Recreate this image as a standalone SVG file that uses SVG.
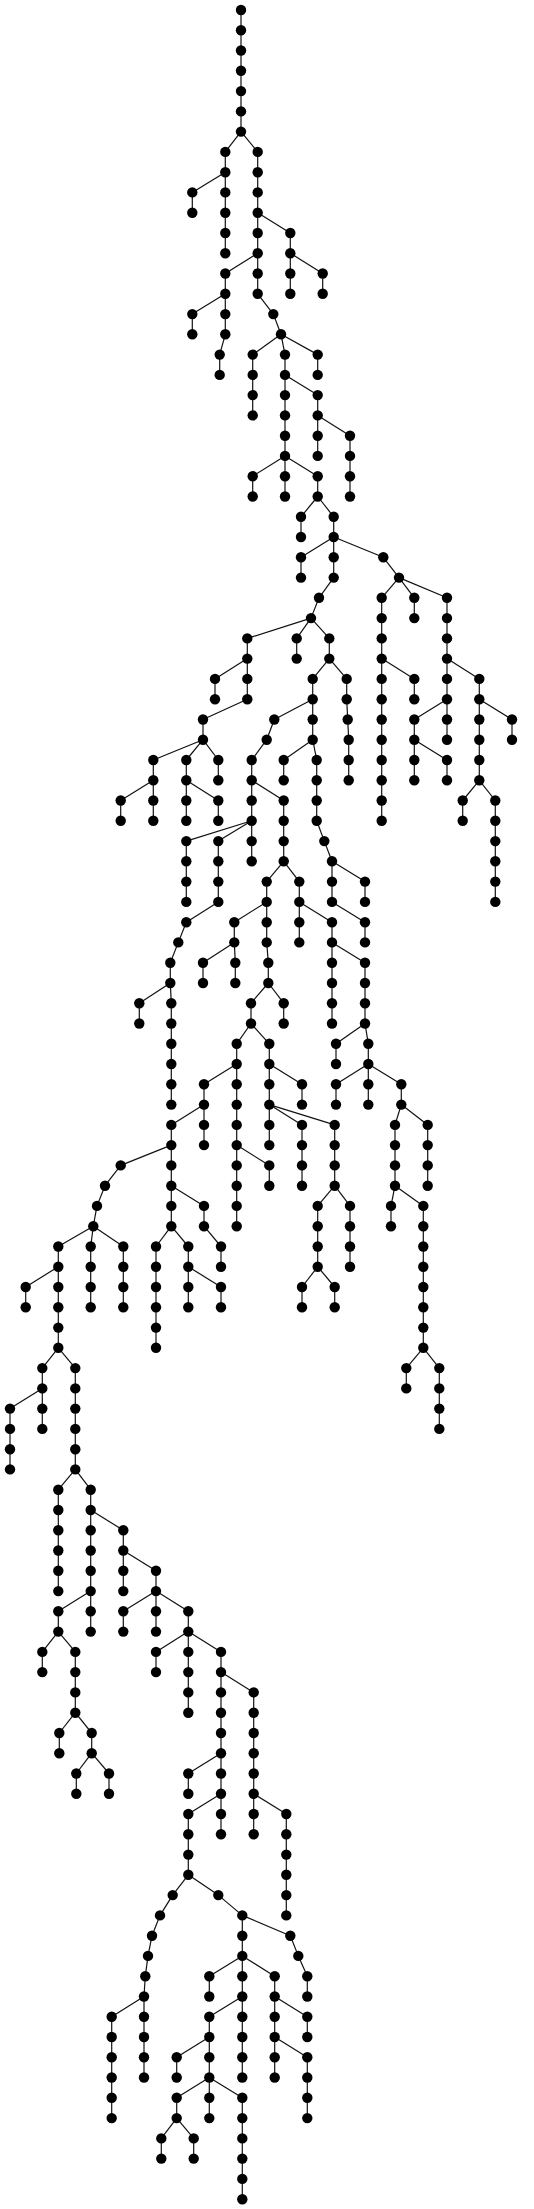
<svg xmlns="http://www.w3.org/2000/svg" xmlns:xlink="http://www.w3.org/1999/xlink" width="534" height="2209" viewBox="0 0 534 2209">
<style>
#edges path{fill:none;stroke:#111;stroke-width:1.2}
.dot{fill:#000}
</style>
<defs><circle id="d" class="dot" r="5.2"/></defs>
<rect width="534" height="2209" fill="#fff"/>
<g id="edges">
<path d="M241 10V30.3"/><path d="M241 30.3V50.5"/><path d="M241 50.5V70.8"/><path d="M241 70.8V91.1"/><path d="M241 91.1V111.4"/><path d="M241 111.4V131.6"/>
<path d="M241 131.6L225.3 151.9"/><path d="M241 131.6L257.7 151.9"/><path d="M225.3 151.9V172.2"/><path d="M225.3 172.2L192.3 192.4"/><path d="M192.3 192.4V212.7"/>
<path d="M225.3 172.2V192.4"/><path d="M225.3 192.4V212.7"/><path d="M225.3 212.7V233"/><path d="M225.3 233V253.2"/>
<path d="M257.7 151.9V172.2"/><path d="M257.7 172.2V192.4"/><path d="M257.7 192.4V212.7"/><path d="M257.7 212.7L290.3 233"/><path d="M290.3 233V253.2"/><path d="M290.3 253.2V273.5"/><path d="M290.3 273.5V293.8"/><path d="M290.3 253.2L322.7 273.5"/><path d="M322.7 273.5V293.8"/>
<path d="M257.7 212.7V233"/><path d="M257.7 233V253.2"/><path d="M257.7 253.2L225.3 273.5"/><path d="M225.3 273.5V293.8"/><path d="M225.3 293.8L192.3 314.1"/><path d="M192.3 314.1V334.3"/><path d="M225.3 293.8V314.1"/><path d="M225.3 314.1V334.3"/><path d="M225.3 334.3L219.7 354.6"/><path d="M219.7 354.6V374.9"/>
<path d="M257.7 253.2V273.5"/><path d="M257.7 273.5V293.8"/><path d="M257.7 293.8L273.3 314.1"/><path d="M273.3 314.1L281 334.3"/><path d="M281 334.3L252.7 354.6"/><path d="M252.7 354.6V374.9"/><path d="M252.7 374.9V395.1"/><path d="M252.7 395.1V415.4"/>
<path d="M281 334.3L285 354.6"/><path d="M285 354.6V374.9"/><path d="M285 374.9V395.1"/><path d="M285 395.1V415.4"/><path d="M285 415.4V435.7"/><path d="M285 435.7V455.9"/><path d="M285 455.9L252.7 476.2"/><path d="M252.7 476.2V496.5"/><path d="M285 455.9V476.2"/><path d="M285 476.2V496.5"/><path d="M285 455.9L317.7 476.2"/><path d="M317.7 476.2V496.5"/>
<path d="M317.7 496.5L301 516.8"/><path d="M301 516.8V537"/><path d="M317.7 496.5L333.7 516.8"/><path d="M333.7 516.8V537"/><path d="M333.7 537L301 557.3"/><path d="M301 557.3V577.6"/><path d="M333.7 537V557.3"/><path d="M333.7 557.3V577.6"/><path d="M333.7 577.6L319 597.8"/><path d="M319 597.8L311 618.1"/>
<path d="M311 618.1L247.3 638.4"/><path d="M247.3 638.4V658.6"/><path d="M247.3 658.6L215 678.9"/><path d="M215 678.9V699.2"/><path d="M247.3 658.6V678.9"/><path d="M247.3 678.9V699.2"/><path d="M247.3 699.2L203 719.5"/><path d="M203 719.5V739.7"/>
<path d="M203 739.7L153.3 760"/><path d="M153.3 760V780.3"/><path d="M153.3 780.3L120.7 800.5"/><path d="M120.7 800.5V820.8"/><path d="M153.3 780.3V800.5"/><path d="M153.3 800.5V820.8"/><path d="M203 739.7L186.3 760"/><path d="M186.3 760V780.3"/><path d="M186.3 780.3V800.5"/><path d="M186.3 800.5V820.8"/><path d="M186.3 780.3L218.3 800.5"/><path d="M218.3 800.5V820.8"/><path d="M203 739.7L218.3 760"/><path d="M218.3 760V780.3"/>
<path d="M311 618.1L296.7 638.4"/><path d="M296.7 638.4V658.6"/><path d="M311 618.1L329.3 638.4"/><path d="M329.3 638.4V658.6"/><path d="M329.3 658.6L312.7 678.9"/><path d="M312.7 678.9V699.2"/><path d="M312.7 699.2L274.3 719.5"/><path d="M274.3 719.5L266.7 739.7"/><path d="M266.7 739.7L251.7 760"/><path d="M251.7 760V780.3"/><path d="M251.7 780.3V800.5"/><path d="M251.7 800.5V820.8"/>
<path d="M251.7 820.8L186.3 841.1"/><path d="M186.3 841.1V861.3"/><path d="M186.3 861.3V881.6"/><path d="M186.3 881.6V901.9"/><path d="M251.7 820.8L218.3 841.1"/><path d="M218.3 841.1V861.3"/><path d="M218.3 861.3V881.6"/><path d="M218.3 881.6V901.9"/><path d="M218.3 901.9L186.3 922.2"/><path d="M186.3 922.2L178.3 942.4"/><path d="M178.3 942.4L170.3 962.7"/><path d="M170.3 962.7V983"/>
<path d="M170.3 983L139.3 1003.2"/><path d="M139.3 1003.2V1023.5"/><path d="M170.3 983L171.3 1003.2"/><path d="M171.3 1003.2V1023.5"/><path d="M171.3 1023.5V1043.8"/><path d="M171.3 1043.8V1064"/><path d="M171.3 1064V1084.3"/><path d="M171.3 1084.3V1104.6"/>
<path d="M251.7 820.8V841.1"/><path d="M251.7 841.1V861.3"/><path d="M251.7 780.3L283.7 800.5"/><path d="M283.7 800.5V820.8"/><path d="M283.7 820.8V841.1"/><path d="M283.7 841.1V861.3"/><path d="M283.7 861.3L266.7 881.6"/><path d="M266.7 881.6V901.9"/><path d="M266.7 901.9L234.3 922.2"/><path d="M234.3 922.2V942.4"/><path d="M234.3 942.4L203 962.7"/><path d="M203 962.7V983"/><path d="M234.3 942.4L235.3 962.7"/><path d="M235.3 962.7V983"/>
<path d="M266.7 901.9V922.2"/><path d="M266.7 922.2V942.4"/><path d="M266.7 942.4L268.3 962.7"/><path d="M268.3 962.7V983"/><path d="M268.3 983L251 1003.2"/><path d="M251 1003.2V1023.5"/><path d="M251 1023.5L236.7 1043.8"/><path d="M236.7 1043.8V1064"/><path d="M236.7 1064L204 1084.3"/><path d="M204 1084.3V1104.6"/><path d="M204 1104.6L171.3 1124.9"/><path d="M171.3 1124.9V1145.1"/>
<path d="M171.3 1145.1L120.7 1165.4"/><path d="M120.7 1165.4L105 1185.7"/><path d="M105 1185.7L97 1205.9"/><path d="M97 1205.9L93.3 1226.2"/><path d="M93.3 1226.2L58.3 1246.5"/><path d="M58.3 1246.5V1266.7"/><path d="M58.3 1266.7L25.7 1287"/><path d="M25.7 1287V1307.3"/><path d="M58.3 1266.7V1287"/><path d="M58.3 1287V1307.3"/><path d="M58.3 1307.3V1327.6"/><path d="M58.3 1327.6V1347.8"/>
<path d="M58.3 1347.8L42.3 1368.1"/><path d="M42.3 1368.1V1388.4"/><path d="M42.3 1388.4L10 1408.6"/><path d="M10 1408.6V1428.9"/><path d="M10 1428.9V1449.2"/><path d="M10 1449.2V1469.4"/><path d="M42.3 1388.4V1408.6"/><path d="M42.3 1408.6V1428.9"/>
<path d="M58.3 1347.8L75.3 1368.1"/><path d="M75.3 1368.1V1388.4"/><path d="M75.3 1388.4V1408.6"/><path d="M75.3 1408.6V1428.9"/><path d="M75.3 1428.9V1449.2"/><path d="M75.3 1449.2V1469.4"/>
<path d="M75.3 1469.4L58.3 1489.7"/><path d="M58.3 1489.7V1510"/><path d="M58.3 1510V1530.3"/><path d="M58.3 1530.3V1550.5"/><path d="M58.3 1550.5V1570.8"/><path d="M58.3 1570.8V1591.1"/>
<path d="M75.3 1469.4L90.7 1489.7"/><path d="M90.7 1489.7V1510"/><path d="M90.7 1510V1530.3"/><path d="M90.7 1530.3V1550.5"/><path d="M90.7 1550.5V1570.8"/><path d="M90.7 1570.8V1591.1"/>
<path d="M90.7 1591.1L58.3 1611.3"/><path d="M58.3 1611.3V1631.6"/><path d="M58.3 1631.6L42.3 1651.9"/><path d="M42.3 1651.9V1672.1"/><path d="M58.3 1631.6L75.3 1651.9"/><path d="M75.3 1651.9V1672.1"/><path d="M75.3 1672.1V1692.4"/><path d="M75.3 1692.4V1712.7"/><path d="M75.3 1712.7L59.3 1733"/><path d="M59.3 1733V1753.2"/><path d="M75.3 1712.7L91.7 1733"/><path d="M91.7 1733V1753.2"/><path d="M91.7 1753.2L76.3 1773.5"/><path d="M76.3 1773.5V1793.8"/><path d="M91.7 1753.2L109 1773.5"/><path d="M109 1773.5V1793.8"/>
<path d="M90.7 1591.1V1611.3"/><path d="M90.7 1611.3V1631.6"/>
<path d="M90.7 1510L123.3 1530.3"/><path d="M123.3 1530.3V1550.5"/><path d="M123.3 1550.5V1570.8"/><path d="M123.3 1570.8V1591.1"/><path d="M123.3 1550.5L156 1570.8"/><path d="M156 1570.8V1591.1"/><path d="M156 1591.1L123.3 1611.3"/><path d="M123.3 1611.3V1631.6"/><path d="M156 1591.1V1611.3"/><path d="M156 1611.3V1631.6"/><path d="M156 1591.1L188.3 1611.3"/><path d="M188.3 1611.3V1631.6"/>
<path d="M188.3 1631.6L156 1651.9"/><path d="M156 1651.9V1672.1"/><path d="M188.3 1631.6V1651.9"/><path d="M188.3 1651.9V1672.1"/><path d="M188.3 1672.1V1692.4"/><path d="M188.3 1692.4V1712.7"/>
<path d="M188.3 1631.6L221 1651.9"/><path d="M221 1651.9V1672.1"/><path d="M221 1672.1V1692.4"/><path d="M221 1692.4V1712.7"/><path d="M221 1712.7V1733"/><path d="M221 1733V1753.2"/><path d="M221 1753.2L188.3 1773.5"/><path d="M188.3 1773.5V1793.8"/><path d="M221 1753.2V1773.5"/><path d="M221 1773.5V1793.8"/>
<path d="M221 1793.8L188.3 1814"/><path d="M188.3 1814V1834.3"/><path d="M188.3 1834.3V1854.6"/><path d="M188.3 1854.6V1874.8"/>
<path d="M188.3 1874.8L172.7 1895.1"/><path d="M172.7 1895.1L160 1915.4"/><path d="M160 1915.4L152 1935.7"/><path d="M152 1935.7L148 1955.9"/><path d="M148 1955.9L145.3 1976.2"/><path d="M145.3 1976.2L144 1996.5"/>
<path d="M144 1996.5L111.7 2016.7"/><path d="M111.7 2016.7V2037"/><path d="M111.7 2037V2057.3"/><path d="M111.7 2057.3V2077.5"/><path d="M111.7 2077.5V2097.8"/><path d="M111.7 2097.8V2118.1"/>
<path d="M144 1996.5V2016.7"/><path d="M144 2016.7V2037"/><path d="M144 2037V2057.3"/><path d="M144 2057.3V2077.5"/>
<path d="M188.3 1874.8L218.3 1895.1"/><path d="M218.3 1895.1L242.3 1915.4"/><path d="M242.3 1915.4V1935.7"/><path d="M242.3 1935.7V1955.9"/><path d="M242.3 1955.9L209.3 1976.2"/><path d="M209.3 1976.2V1996.5"/><path d="M242.3 1955.9V1976.2"/><path d="M242.3 1976.2V1996.5"/>
<path d="M242.3 1996.5L209.3 2016.7"/><path d="M209.3 2016.7V2037"/><path d="M209.3 2037L176.7 2057.3"/><path d="M176.7 2057.3V2077.5"/><path d="M209.3 2037V2057.3"/><path d="M209.3 2057.3V2077.5"/><path d="M209.3 2077.5L176.7 2097.8"/><path d="M176.7 2097.8V2118.1"/><path d="M176.7 2118.1L161.3 2138.4"/><path d="M161.3 2138.4V2158.6"/><path d="M176.7 2118.1L193.7 2138.4"/><path d="M193.7 2138.4V2158.6"/>
<path d="M209.3 2077.5V2097.8"/><path d="M209.3 2097.8V2118.1"/><path d="M209.3 2077.5L242.3 2097.8"/><path d="M242.3 2097.8V2118.1"/><path d="M242.3 2118.1V2138.4"/><path d="M242.3 2138.4V2158.6"/><path d="M242.3 2158.6V2178.9"/><path d="M242.3 2178.9V2199.2"/>
<path d="M242.3 1996.5V2016.7"/><path d="M242.3 2016.7V2037"/><path d="M242.3 2037V2057.3"/><path d="M242.3 2057.3V2077.5"/>
<path d="M242.3 1955.9L274.7 1976.2"/><path d="M274.7 1976.2V1996.5"/><path d="M274.7 1996.5V2016.7"/><path d="M274.7 2016.7V2037"/><path d="M274.7 2037V2057.3"/><path d="M274.7 2057.3V2077.5"/><path d="M274.7 2037L307.3 2057.3"/><path d="M307.3 2057.3V2077.5"/><path d="M307.3 2077.5V2097.8"/><path d="M307.3 2097.8V2118.1"/><path d="M274.7 1996.5L307.3 2016.7"/><path d="M307.3 2016.7V2037"/>
<path d="M242.3 1915.4L290.3 1935.7"/><path d="M290.3 1935.7L298.3 1955.9"/><path d="M298.3 1955.9L307.3 1976.2"/><path d="M307.3 1976.2V1996.5"/>
<path d="M221 1793.8V1814"/><path d="M221 1814V1834.3"/>
<path d="M221 1672.1L253.7 1692.4"/><path d="M253.7 1692.4V1712.7"/><path d="M253.7 1712.7V1733"/><path d="M253.7 1733V1753.2"/><path d="M253.7 1753.2V1773.5"/><path d="M253.7 1773.5V1793.8"/><path d="M253.7 1793.8V1814"/><path d="M253.7 1814V1834.3"/>
<path d="M253.7 1793.8L286.3 1814"/><path d="M286.3 1814V1834.3"/><path d="M286.3 1834.3V1854.6"/><path d="M286.3 1854.6V1874.8"/><path d="M286.3 1874.8V1895.1"/><path d="M286.3 1895.1V1915.4"/>
<path d="M171.3 1145.1V1165.4"/><path d="M171.3 1165.4V1185.7"/><path d="M171.3 1185.7V1205.9"/><path d="M171.3 1205.9V1226.2"/>
<path d="M171.3 1226.2L156 1246.5"/><path d="M156 1246.5V1266.7"/><path d="M156 1266.7V1287"/><path d="M156 1287V1307.3"/><path d="M156 1307.3V1327.6"/><path d="M156 1327.6V1347.8"/>
<path d="M171.3 1226.2L188.3 1246.5"/><path d="M188.3 1246.5V1266.7"/><path d="M188.3 1266.7V1287"/><path d="M188.3 1287V1307.3"/><path d="M188.3 1266.7L221 1287"/><path d="M221 1287V1307.3"/>
<path d="M171.3 1185.7L204 1205.9"/><path d="M204 1205.9V1226.2"/><path d="M204 1226.2L221 1246.5"/><path d="M221 1246.5V1266.7"/>
<path d="M93.3 1226.2L90.7 1246.5"/><path d="M90.7 1246.5V1266.7"/><path d="M90.7 1266.7V1287"/><path d="M90.7 1287V1307.3"/>
<path d="M93.3 1226.2L123.3 1246.5"/><path d="M123.3 1246.5V1266.7"/><path d="M123.3 1266.7V1287"/><path d="M123.3 1287V1307.3"/>
<path d="M204 1104.6V1124.9"/><path d="M204 1124.9V1145.1"/>
<path d="M236.7 1064V1084.3"/><path d="M236.7 1084.3V1104.6"/><path d="M236.7 1104.6V1124.9"/><path d="M236.7 1124.9V1145.1"/><path d="M236.7 1145.1V1165.4"/><path d="M236.7 1165.4V1185.7"/><path d="M236.7 1185.7V1205.9"/><path d="M236.7 1205.9V1226.2"/><path d="M236.7 1145.1L269.3 1165.4"/><path d="M269.3 1165.4V1185.7"/>
<path d="M251 1023.5L269.3 1043.8"/><path d="M269.3 1043.8V1064"/><path d="M269.3 1064V1084.3"/><path d="M269.3 1084.3V1104.6"/><path d="M269.3 1104.6V1124.9"/><path d="M269.3 1124.9V1145.1"/>
<path d="M269.3 1104.6L302 1124.9"/><path d="M302 1124.9V1145.1"/><path d="M302 1145.1V1165.4"/><path d="M302 1165.4V1185.7"/>
<path d="M269.3 1104.6L334.7 1124.9"/><path d="M334.7 1124.9V1145.1"/><path d="M334.7 1145.1V1165.4"/><path d="M334.7 1165.4V1185.7"/><path d="M334.7 1185.7L317.7 1205.9"/><path d="M317.7 1205.9V1226.2"/><path d="M317.7 1226.2V1246.5"/><path d="M317.7 1246.5V1266.7"/><path d="M317.7 1266.7L302 1287"/><path d="M302 1287V1307.3"/><path d="M317.7 1266.7L334.7 1287"/><path d="M334.7 1287V1307.3"/>
<path d="M334.7 1185.7L350 1205.9"/><path d="M350 1205.9V1226.2"/><path d="M350 1226.2V1246.5"/><path d="M350 1246.5V1266.7"/>
<path d="M269.3 1064L302 1084.3"/><path d="M302 1084.3V1104.6"/>
<path d="M268.3 983L283.7 1003.2"/><path d="M283.7 1003.2V1023.5"/>
<path d="M283.7 861.3L299.3 881.6"/><path d="M299.3 881.6V901.9"/><path d="M299.3 901.9V922.2"/><path d="M299.3 922.2V942.4"/><path d="M299.3 901.9L332 922.2"/><path d="M332 922.2V942.4"/><path d="M332 942.4V962.7"/><path d="M332 962.7V983"/><path d="M332 983V1003.2"/><path d="M332 1003.2V1023.5"/>
<path d="M332 942.4L365 962.7"/><path d="M365 962.7V983"/><path d="M365 983V1003.2"/><path d="M365 1003.2V1023.5"/><path d="M365 1023.5L336 1043.8"/><path d="M336 1043.8V1064"/><path d="M365 1023.5L368.3 1043.8"/><path d="M368.3 1043.8V1064"/>
<path d="M368.3 1064L336 1084.3"/><path d="M336 1084.3V1104.6"/><path d="M368.3 1064V1084.3"/><path d="M368.3 1084.3V1104.6"/><path d="M368.3 1064L401.3 1084.3"/><path d="M401.3 1084.3V1104.6"/>
<path d="M401.3 1104.6L395 1124.9"/><path d="M395 1124.9V1145.1"/><path d="M395 1145.1V1165.4"/><path d="M395 1165.4V1185.7"/><path d="M395 1185.7L391 1205.9"/><path d="M391 1205.9V1226.2"/>
<path d="M395 1185.7L423.3 1205.9"/><path d="M423.3 1205.9V1226.2"/><path d="M423.3 1226.2V1246.5"/><path d="M423.3 1246.5V1266.7"/><path d="M423.3 1266.7V1287"/><path d="M423.3 1287V1307.3"/><path d="M423.3 1307.3V1327.6"/><path d="M423.3 1327.6V1347.8"/>
<path d="M423.3 1347.8L406.3 1368.1"/><path d="M406.3 1368.1V1388.4"/><path d="M423.3 1347.8L439.3 1368.1"/><path d="M439.3 1368.1V1388.4"/><path d="M439.3 1388.4V1408.6"/><path d="M439.3 1408.6V1428.9"/>
<path d="M401.3 1104.6L427.7 1124.9"/><path d="M427.7 1124.9V1145.1"/><path d="M427.7 1145.1V1165.4"/><path d="M427.7 1165.4V1185.7"/>
<path d="M312.7 699.2V719.5"/><path d="M312.7 719.5V739.7"/><path d="M312.7 739.7L283.7 760"/><path d="M283.7 760V780.3"/><path d="M312.7 739.7L316.7 760"/><path d="M316.7 760V780.3"/><path d="M316.7 780.3V800.5"/><path d="M316.7 800.5V820.8"/><path d="M316.7 820.8L324.3 841.1"/><path d="M324.3 841.1L332 861.3"/>
<path d="M332 861.3V881.6"/><path d="M332 881.6V901.9"/><path d="M332 901.9L365 922.2"/><path d="M365 922.2V942.4"/><path d="M332 861.3L365 881.6"/><path d="M365 881.6V901.9"/>
<path d="M329.3 658.6L346.7 678.9"/><path d="M346.7 678.9V699.2"/><path d="M346.7 699.2L347.7 719.5"/><path d="M347.7 719.5L348.7 739.7"/><path d="M348.7 739.7V760"/><path d="M348.7 760V780.3"/>
<path d="M333.7 537L383.3 557.3"/><path d="M383.3 557.3L399 577.6"/><path d="M399 577.6L381.7 597.8"/><path d="M381.7 597.8V618.1"/><path d="M381.7 618.1V638.4"/><path d="M381.7 638.4V658.6"/><path d="M381.7 658.6V678.9"/><path d="M381.7 678.9V699.2"/><path d="M381.7 699.2V719.5"/><path d="M381.7 719.5V739.7"/><path d="M381.7 739.7V760"/><path d="M381.7 760V780.3"/><path d="M381.7 780.3V800.5"/><path d="M381.7 800.5V820.8"/>
<path d="M381.7 658.6L414.3 678.9"/><path d="M414.3 678.9V699.2"/><path d="M399 577.6L414.3 597.8"/><path d="M414.3 597.8V618.1"/>
<path d="M399 577.6L447 597.8"/><path d="M447 597.8V618.1"/><path d="M447 618.1V638.4"/><path d="M447 638.4V658.6"/><path d="M447 658.6V678.9"/><path d="M447 678.9V699.2"/><path d="M447 699.2L414.3 719.5"/><path d="M414.3 719.5V739.7"/><path d="M414.3 739.7V760"/><path d="M414.3 760V780.3"/><path d="M414.3 739.7L447 760"/><path d="M447 760V780.3"/><path d="M447 699.2V719.5"/><path d="M447 719.5V739.7"/>
<path d="M447 658.6L479.3 678.9"/><path d="M479.3 678.9V699.2"/><path d="M479.3 699.2V719.5"/><path d="M479.3 719.5V739.7"/><path d="M479.3 739.7V760"/><path d="M479.3 760V780.3"/><path d="M479.3 780.3L462.7 800.5"/><path d="M462.7 800.5V820.8"/><path d="M479.3 780.3L495.3 800.5"/><path d="M495.3 800.5V820.8"/><path d="M495.3 820.8V841.1"/><path d="M495.3 841.1V861.3"/><path d="M495.3 861.3V881.6"/><path d="M495.3 881.6V901.9"/>
<path d="M479.3 699.2L512 719.5"/><path d="M512 719.5V739.7"/>
<path d="M285 374.9L317.7 395.1"/><path d="M317.7 395.1V415.4"/><path d="M317.7 415.4V435.7"/><path d="M317.7 435.7V455.9"/><path d="M317.7 415.4L350 435.7"/><path d="M350 435.7V455.9"/><path d="M350 455.9V476.2"/><path d="M350 476.2V496.5"/>
<path d="M281 334.3L317.7 354.6"/><path d="M317.7 354.6V374.9"/>
</g>
<g id="nodes">
<g id="n1"><use href="#d" x="241" y="10"/></g><g id="n2"><use href="#d" x="241" y="30.3"/></g><g id="n3"><use href="#d" x="241" y="50.5"/></g><g id="n4"><use href="#d" x="241" y="70.8"/></g><g id="n5"><use href="#d" x="241" y="91.1"/></g><g id="n6"><use href="#d" x="241" y="111.4"/></g><g id="n7"><use href="#d" x="241" y="131.6"/></g>
<g id="n8"><use href="#d" x="225.3" y="151.9"/></g><g id="n9"><use href="#d" x="257.7" y="151.9"/></g><g id="n10"><use href="#d" x="225.3" y="172.2"/></g><g id="n11"><use href="#d" x="192.3" y="192.4"/></g><g id="n12"><use href="#d" x="192.3" y="212.7"/></g><g id="n13"><use href="#d" x="225.3" y="192.4"/></g><g id="n14"><use href="#d" x="225.3" y="212.7"/></g><g id="n15"><use href="#d" x="225.3" y="233"/></g><g id="n16"><use href="#d" x="225.3" y="253.2"/></g>
<g id="n17"><use href="#d" x="257.7" y="172.2"/></g><g id="n18"><use href="#d" x="257.7" y="192.4"/></g><g id="n19"><use href="#d" x="257.7" y="212.7"/></g><g id="n20"><use href="#d" x="290.3" y="233"/></g><g id="n21"><use href="#d" x="290.3" y="253.2"/></g><g id="n22"><use href="#d" x="290.3" y="273.5"/></g><g id="n23"><use href="#d" x="290.3" y="293.8"/></g><g id="n24"><use href="#d" x="322.7" y="273.5"/></g><g id="n25"><use href="#d" x="322.7" y="293.8"/></g>
<g id="n26"><use href="#d" x="257.7" y="233"/></g><g id="n27"><use href="#d" x="257.7" y="253.2"/></g><g id="n28"><use href="#d" x="225.3" y="273.5"/></g><g id="n29"><use href="#d" x="225.3" y="293.8"/></g><g id="n30"><use href="#d" x="192.3" y="314.1"/></g><g id="n31"><use href="#d" x="192.3" y="334.3"/></g><g id="n32"><use href="#d" x="225.3" y="314.1"/></g><g id="n33"><use href="#d" x="225.3" y="334.3"/></g><g id="n34"><use href="#d" x="219.7" y="354.6"/></g><g id="n35"><use href="#d" x="219.7" y="374.9"/></g>
<g id="n36"><use href="#d" x="257.7" y="273.5"/></g><g id="n37"><use href="#d" x="257.7" y="293.8"/></g><g id="n38"><use href="#d" x="273.3" y="314.1"/></g><g id="n39"><use href="#d" x="281" y="334.3"/></g><g id="n40"><use href="#d" x="252.7" y="354.6"/></g><g id="n41"><use href="#d" x="252.7" y="374.9"/></g><g id="n42"><use href="#d" x="252.7" y="395.1"/></g><g id="n43"><use href="#d" x="252.7" y="415.4"/></g>
<g id="n44"><use href="#d" x="285" y="354.6"/></g><g id="n45"><use href="#d" x="285" y="374.9"/></g><g id="n46"><use href="#d" x="285" y="395.1"/></g><g id="n47"><use href="#d" x="285" y="415.4"/></g><g id="n48"><use href="#d" x="285" y="435.7"/></g><g id="n49"><use href="#d" x="285" y="455.9"/></g><g id="n50"><use href="#d" x="252.7" y="476.2"/></g><g id="n51"><use href="#d" x="252.7" y="496.5"/></g><g id="n52"><use href="#d" x="285" y="476.2"/></g><g id="n53"><use href="#d" x="285" y="496.5"/></g><g id="n54"><use href="#d" x="317.7" y="476.2"/></g><g id="n55"><use href="#d" x="317.7" y="496.5"/></g>
<g id="n56"><use href="#d" x="301" y="516.8"/></g><g id="n57"><use href="#d" x="301" y="537"/></g><g id="n58"><use href="#d" x="333.7" y="516.8"/></g><g id="n59"><use href="#d" x="333.7" y="537"/></g><g id="n60"><use href="#d" x="301" y="557.3"/></g><g id="n61"><use href="#d" x="301" y="577.6"/></g><g id="n62"><use href="#d" x="333.7" y="557.3"/></g><g id="n63"><use href="#d" x="333.7" y="577.6"/></g><g id="n64"><use href="#d" x="319" y="597.8"/></g><g id="n65"><use href="#d" x="311" y="618.1"/></g>
<g id="n66"><use href="#d" x="247.3" y="638.4"/></g><g id="n67"><use href="#d" x="247.3" y="658.6"/></g><g id="n68"><use href="#d" x="215" y="678.9"/></g><g id="n69"><use href="#d" x="215" y="699.2"/></g><g id="n70"><use href="#d" x="247.3" y="678.9"/></g><g id="n71"><use href="#d" x="247.3" y="699.2"/></g><g id="n72"><use href="#d" x="203" y="719.5"/></g><g id="n73"><use href="#d" x="203" y="739.7"/></g>
<g id="n74"><use href="#d" x="153.3" y="760"/></g><g id="n75"><use href="#d" x="153.3" y="780.3"/></g><g id="n76"><use href="#d" x="120.7" y="800.5"/></g><g id="n77"><use href="#d" x="120.7" y="820.8"/></g><g id="n78"><use href="#d" x="153.3" y="800.5"/></g><g id="n79"><use href="#d" x="153.3" y="820.8"/></g><g id="n80"><use href="#d" x="186.3" y="760"/></g><g id="n81"><use href="#d" x="186.3" y="780.3"/></g><g id="n82"><use href="#d" x="186.3" y="800.5"/></g><g id="n83"><use href="#d" x="186.3" y="820.8"/></g><g id="n84"><use href="#d" x="218.3" y="800.5"/></g><g id="n85"><use href="#d" x="218.3" y="820.8"/></g><g id="n86"><use href="#d" x="218.3" y="760"/></g><g id="n87"><use href="#d" x="218.3" y="780.3"/></g>
<g id="n88"><use href="#d" x="296.7" y="638.4"/></g><g id="n89"><use href="#d" x="296.7" y="658.6"/></g><g id="n90"><use href="#d" x="329.3" y="638.4"/></g><g id="n91"><use href="#d" x="329.3" y="658.6"/></g><g id="n92"><use href="#d" x="312.7" y="678.9"/></g><g id="n93"><use href="#d" x="312.7" y="699.2"/></g><g id="n94"><use href="#d" x="274.3" y="719.5"/></g><g id="n95"><use href="#d" x="266.7" y="739.7"/></g><g id="n96"><use href="#d" x="251.7" y="760"/></g><g id="n97"><use href="#d" x="251.7" y="780.3"/></g><g id="n98"><use href="#d" x="251.7" y="800.5"/></g><g id="n99"><use href="#d" x="251.7" y="820.8"/></g>
<g id="n100"><use href="#d" x="186.3" y="841.1"/></g><g id="n101"><use href="#d" x="186.3" y="861.3"/></g><g id="n102"><use href="#d" x="186.3" y="881.6"/></g><g id="n103"><use href="#d" x="186.3" y="901.9"/></g><g id="n104"><use href="#d" x="218.3" y="841.1"/></g><g id="n105"><use href="#d" x="218.3" y="861.3"/></g><g id="n106"><use href="#d" x="218.3" y="881.6"/></g><g id="n107"><use href="#d" x="218.3" y="901.9"/></g><g id="n108"><use href="#d" x="186.3" y="922.2"/></g><g id="n109"><use href="#d" x="178.3" y="942.4"/></g><g id="n110"><use href="#d" x="170.3" y="962.7"/></g><g id="n111"><use href="#d" x="170.3" y="983"/></g>
<g id="n112"><use href="#d" x="139.3" y="1003.2"/></g><g id="n113"><use href="#d" x="139.3" y="1023.5"/></g><g id="n114"><use href="#d" x="171.3" y="1003.2"/></g><g id="n115"><use href="#d" x="171.3" y="1023.5"/></g><g id="n116"><use href="#d" x="171.3" y="1043.8"/></g><g id="n117"><use href="#d" x="171.3" y="1064"/></g><g id="n118"><use href="#d" x="171.3" y="1084.3"/></g><g id="n119"><use href="#d" x="171.3" y="1104.6"/></g>
<g id="n120"><use href="#d" x="251.7" y="841.1"/></g><g id="n121"><use href="#d" x="251.7" y="861.3"/></g><g id="n122"><use href="#d" x="283.7" y="800.5"/></g><g id="n123"><use href="#d" x="283.7" y="820.8"/></g><g id="n124"><use href="#d" x="283.7" y="841.1"/></g><g id="n125"><use href="#d" x="283.7" y="861.3"/></g><g id="n126"><use href="#d" x="266.7" y="881.6"/></g><g id="n127"><use href="#d" x="266.7" y="901.9"/></g><g id="n128"><use href="#d" x="234.3" y="922.2"/></g><g id="n129"><use href="#d" x="234.3" y="942.4"/></g><g id="n130"><use href="#d" x="203" y="962.7"/></g><g id="n131"><use href="#d" x="203" y="983"/></g><g id="n132"><use href="#d" x="235.3" y="962.7"/></g><g id="n133"><use href="#d" x="235.3" y="983"/></g>
<g id="n134"><use href="#d" x="266.7" y="922.2"/></g><g id="n135"><use href="#d" x="266.7" y="942.4"/></g><g id="n136"><use href="#d" x="268.3" y="962.7"/></g><g id="n137"><use href="#d" x="268.3" y="983"/></g><g id="n138"><use href="#d" x="251" y="1003.2"/></g><g id="n139"><use href="#d" x="251" y="1023.5"/></g><g id="n140"><use href="#d" x="236.7" y="1043.8"/></g><g id="n141"><use href="#d" x="236.7" y="1064"/></g><g id="n142"><use href="#d" x="204" y="1084.3"/></g><g id="n143"><use href="#d" x="204" y="1104.6"/></g><g id="n144"><use href="#d" x="171.3" y="1124.9"/></g><g id="n145"><use href="#d" x="171.3" y="1145.1"/></g>
<g id="n146"><use href="#d" x="120.7" y="1165.4"/></g><g id="n147"><use href="#d" x="105" y="1185.7"/></g><g id="n148"><use href="#d" x="97" y="1205.9"/></g><g id="n149"><use href="#d" x="93.3" y="1226.2"/></g><g id="n150"><use href="#d" x="58.3" y="1246.5"/></g><g id="n151"><use href="#d" x="58.3" y="1266.7"/></g><g id="n152"><use href="#d" x="25.7" y="1287"/></g><g id="n153"><use href="#d" x="25.7" y="1307.3"/></g><g id="n154"><use href="#d" x="58.3" y="1287"/></g><g id="n155"><use href="#d" x="58.3" y="1307.3"/></g><g id="n156"><use href="#d" x="58.3" y="1327.6"/></g><g id="n157"><use href="#d" x="58.3" y="1347.8"/></g>
<g id="n158"><use href="#d" x="42.3" y="1368.1"/></g><g id="n159"><use href="#d" x="42.3" y="1388.4"/></g><g id="n160"><use href="#d" x="10" y="1408.6"/></g><g id="n161"><use href="#d" x="10" y="1428.9"/></g><g id="n162"><use href="#d" x="10" y="1449.2"/></g><g id="n163"><use href="#d" x="10" y="1469.4"/></g><g id="n164"><use href="#d" x="42.3" y="1408.6"/></g><g id="n165"><use href="#d" x="42.3" y="1428.9"/></g>
<g id="n166"><use href="#d" x="75.3" y="1368.1"/></g><g id="n167"><use href="#d" x="75.3" y="1388.4"/></g><g id="n168"><use href="#d" x="75.3" y="1408.6"/></g><g id="n169"><use href="#d" x="75.3" y="1428.9"/></g><g id="n170"><use href="#d" x="75.3" y="1449.2"/></g><g id="n171"><use href="#d" x="75.3" y="1469.4"/></g>
<g id="n172"><use href="#d" x="58.3" y="1489.7"/></g><g id="n173"><use href="#d" x="58.3" y="1510"/></g><g id="n174"><use href="#d" x="58.3" y="1530.3"/></g><g id="n175"><use href="#d" x="58.3" y="1550.5"/></g><g id="n176"><use href="#d" x="58.3" y="1570.8"/></g><g id="n177"><use href="#d" x="58.3" y="1591.1"/></g>
<g id="n178"><use href="#d" x="90.7" y="1489.7"/></g><g id="n179"><use href="#d" x="90.7" y="1510"/></g><g id="n180"><use href="#d" x="90.7" y="1530.3"/></g><g id="n181"><use href="#d" x="90.7" y="1550.5"/></g><g id="n182"><use href="#d" x="90.7" y="1570.8"/></g><g id="n183"><use href="#d" x="90.7" y="1591.1"/></g>
<g id="n184"><use href="#d" x="58.3" y="1611.3"/></g><g id="n185"><use href="#d" x="58.3" y="1631.6"/></g><g id="n186"><use href="#d" x="42.3" y="1651.9"/></g><g id="n187"><use href="#d" x="42.3" y="1672.1"/></g><g id="n188"><use href="#d" x="75.3" y="1651.9"/></g><g id="n189"><use href="#d" x="75.3" y="1672.1"/></g><g id="n190"><use href="#d" x="75.3" y="1692.4"/></g><g id="n191"><use href="#d" x="75.3" y="1712.7"/></g><g id="n192"><use href="#d" x="59.3" y="1733"/></g><g id="n193"><use href="#d" x="59.3" y="1753.2"/></g><g id="n194"><use href="#d" x="91.7" y="1733"/></g><g id="n195"><use href="#d" x="91.7" y="1753.2"/></g><g id="n196"><use href="#d" x="76.3" y="1773.5"/></g><g id="n197"><use href="#d" x="76.3" y="1793.8"/></g><g id="n198"><use href="#d" x="109" y="1773.5"/></g><g id="n199"><use href="#d" x="109" y="1793.8"/></g>
<g id="n200"><use href="#d" x="90.7" y="1611.3"/></g><g id="n201"><use href="#d" x="90.7" y="1631.6"/></g>
<g id="n202"><use href="#d" x="123.3" y="1530.3"/></g><g id="n203"><use href="#d" x="123.3" y="1550.5"/></g><g id="n204"><use href="#d" x="123.3" y="1570.8"/></g><g id="n205"><use href="#d" x="123.3" y="1591.1"/></g><g id="n206"><use href="#d" x="156" y="1570.8"/></g><g id="n207"><use href="#d" x="156" y="1591.1"/></g><g id="n208"><use href="#d" x="123.3" y="1611.3"/></g><g id="n209"><use href="#d" x="123.3" y="1631.6"/></g><g id="n210"><use href="#d" x="156" y="1611.3"/></g><g id="n211"><use href="#d" x="156" y="1631.6"/></g><g id="n212"><use href="#d" x="188.3" y="1611.3"/></g><g id="n213"><use href="#d" x="188.3" y="1631.6"/></g>
<g id="n214"><use href="#d" x="156" y="1651.9"/></g><g id="n215"><use href="#d" x="156" y="1672.1"/></g><g id="n216"><use href="#d" x="188.3" y="1651.9"/></g><g id="n217"><use href="#d" x="188.3" y="1672.1"/></g><g id="n218"><use href="#d" x="188.3" y="1692.4"/></g><g id="n219"><use href="#d" x="188.3" y="1712.7"/></g>
<g id="n220"><use href="#d" x="221" y="1651.9"/></g><g id="n221"><use href="#d" x="221" y="1672.1"/></g><g id="n222"><use href="#d" x="221" y="1692.4"/></g><g id="n223"><use href="#d" x="221" y="1712.7"/></g><g id="n224"><use href="#d" x="221" y="1733"/></g><g id="n225"><use href="#d" x="221" y="1753.2"/></g><g id="n226"><use href="#d" x="188.3" y="1773.5"/></g><g id="n227"><use href="#d" x="188.3" y="1793.8"/></g><g id="n228"><use href="#d" x="221" y="1773.5"/></g><g id="n229"><use href="#d" x="221" y="1793.8"/></g>
<g id="n230"><use href="#d" x="188.3" y="1814"/></g><g id="n231"><use href="#d" x="188.3" y="1834.3"/></g><g id="n232"><use href="#d" x="188.3" y="1854.6"/></g><g id="n233"><use href="#d" x="188.3" y="1874.8"/></g>
<g id="n234"><use href="#d" x="172.7" y="1895.1"/></g><g id="n235"><use href="#d" x="160" y="1915.4"/></g><g id="n236"><use href="#d" x="152" y="1935.7"/></g><g id="n237"><use href="#d" x="148" y="1955.9"/></g><g id="n238"><use href="#d" x="145.3" y="1976.2"/></g><g id="n239"><use href="#d" x="144" y="1996.5"/></g>
<g id="n240"><use href="#d" x="111.7" y="2016.7"/></g><g id="n241"><use href="#d" x="111.7" y="2037"/></g><g id="n242"><use href="#d" x="111.7" y="2057.3"/></g><g id="n243"><use href="#d" x="111.7" y="2077.5"/></g><g id="n244"><use href="#d" x="111.7" y="2097.8"/></g><g id="n245"><use href="#d" x="111.7" y="2118.1"/></g>
<g id="n246"><use href="#d" x="144" y="2016.7"/></g><g id="n247"><use href="#d" x="144" y="2037"/></g><g id="n248"><use href="#d" x="144" y="2057.3"/></g><g id="n249"><use href="#d" x="144" y="2077.5"/></g>
<g id="n250"><use href="#d" x="218.3" y="1895.1"/></g><g id="n251"><use href="#d" x="242.3" y="1915.4"/></g><g id="n252"><use href="#d" x="242.3" y="1935.7"/></g><g id="n253"><use href="#d" x="242.3" y="1955.9"/></g><g id="n254"><use href="#d" x="209.3" y="1976.2"/></g><g id="n255"><use href="#d" x="209.3" y="1996.5"/></g><g id="n256"><use href="#d" x="242.3" y="1976.2"/></g><g id="n257"><use href="#d" x="242.3" y="1996.5"/></g>
<g id="n258"><use href="#d" x="209.3" y="2016.7"/></g><g id="n259"><use href="#d" x="209.3" y="2037"/></g><g id="n260"><use href="#d" x="176.7" y="2057.3"/></g><g id="n261"><use href="#d" x="176.7" y="2077.5"/></g><g id="n262"><use href="#d" x="209.3" y="2057.3"/></g><g id="n263"><use href="#d" x="209.3" y="2077.5"/></g><g id="n264"><use href="#d" x="176.7" y="2097.8"/></g><g id="n265"><use href="#d" x="176.7" y="2118.1"/></g><g id="n266"><use href="#d" x="161.3" y="2138.4"/></g><g id="n267"><use href="#d" x="161.3" y="2158.6"/></g><g id="n268"><use href="#d" x="193.7" y="2138.4"/></g><g id="n269"><use href="#d" x="193.7" y="2158.6"/></g>
<g id="n270"><use href="#d" x="209.3" y="2097.8"/></g><g id="n271"><use href="#d" x="209.3" y="2118.1"/></g><g id="n272"><use href="#d" x="242.3" y="2097.8"/></g><g id="n273"><use href="#d" x="242.3" y="2118.1"/></g><g id="n274"><use href="#d" x="242.3" y="2138.4"/></g><g id="n275"><use href="#d" x="242.3" y="2158.6"/></g><g id="n276"><use href="#d" x="242.3" y="2178.9"/></g><g id="n277"><use href="#d" x="242.3" y="2199.2"/></g>
<g id="n278"><use href="#d" x="242.3" y="2016.7"/></g><g id="n279"><use href="#d" x="242.3" y="2037"/></g><g id="n280"><use href="#d" x="242.3" y="2057.3"/></g><g id="n281"><use href="#d" x="242.3" y="2077.5"/></g>
<g id="n282"><use href="#d" x="274.7" y="1976.2"/></g><g id="n283"><use href="#d" x="274.7" y="1996.5"/></g><g id="n284"><use href="#d" x="274.7" y="2016.7"/></g><g id="n285"><use href="#d" x="274.7" y="2037"/></g><g id="n286"><use href="#d" x="274.7" y="2057.3"/></g><g id="n287"><use href="#d" x="274.7" y="2077.5"/></g><g id="n288"><use href="#d" x="307.3" y="2057.3"/></g><g id="n289"><use href="#d" x="307.3" y="2077.5"/></g><g id="n290"><use href="#d" x="307.3" y="2097.8"/></g><g id="n291"><use href="#d" x="307.3" y="2118.1"/></g><g id="n292"><use href="#d" x="307.3" y="2016.7"/></g><g id="n293"><use href="#d" x="307.3" y="2037"/></g>
<g id="n294"><use href="#d" x="290.3" y="1935.7"/></g><g id="n295"><use href="#d" x="298.3" y="1955.9"/></g><g id="n296"><use href="#d" x="307.3" y="1976.2"/></g><g id="n297"><use href="#d" x="307.3" y="1996.5"/></g>
<g id="n298"><use href="#d" x="221" y="1814"/></g><g id="n299"><use href="#d" x="221" y="1834.3"/></g>
<g id="n300"><use href="#d" x="253.7" y="1692.4"/></g><g id="n301"><use href="#d" x="253.7" y="1712.7"/></g><g id="n302"><use href="#d" x="253.7" y="1733"/></g><g id="n303"><use href="#d" x="253.7" y="1753.2"/></g><g id="n304"><use href="#d" x="253.7" y="1773.5"/></g><g id="n305"><use href="#d" x="253.7" y="1793.8"/></g><g id="n306"><use href="#d" x="253.7" y="1814"/></g><g id="n307"><use href="#d" x="253.7" y="1834.3"/></g>
<g id="n308"><use href="#d" x="286.3" y="1814"/></g><g id="n309"><use href="#d" x="286.3" y="1834.3"/></g><g id="n310"><use href="#d" x="286.3" y="1854.6"/></g><g id="n311"><use href="#d" x="286.3" y="1874.8"/></g><g id="n312"><use href="#d" x="286.3" y="1895.1"/></g><g id="n313"><use href="#d" x="286.3" y="1915.4"/></g>
<g id="n314"><use href="#d" x="171.3" y="1165.4"/></g><g id="n315"><use href="#d" x="171.3" y="1185.7"/></g><g id="n316"><use href="#d" x="171.3" y="1205.9"/></g><g id="n317"><use href="#d" x="171.3" y="1226.2"/></g>
<g id="n318"><use href="#d" x="156" y="1246.5"/></g><g id="n319"><use href="#d" x="156" y="1266.7"/></g><g id="n320"><use href="#d" x="156" y="1287"/></g><g id="n321"><use href="#d" x="156" y="1307.3"/></g><g id="n322"><use href="#d" x="156" y="1327.6"/></g><g id="n323"><use href="#d" x="156" y="1347.8"/></g>
<g id="n324"><use href="#d" x="188.3" y="1246.5"/></g><g id="n325"><use href="#d" x="188.3" y="1266.7"/></g><g id="n326"><use href="#d" x="188.3" y="1287"/></g><g id="n327"><use href="#d" x="188.3" y="1307.3"/></g><g id="n328"><use href="#d" x="221" y="1287"/></g><g id="n329"><use href="#d" x="221" y="1307.3"/></g>
<g id="n330"><use href="#d" x="204" y="1205.9"/></g><g id="n331"><use href="#d" x="204" y="1226.2"/></g><g id="n332"><use href="#d" x="221" y="1246.5"/></g><g id="n333"><use href="#d" x="221" y="1266.7"/></g>
<g id="n334"><use href="#d" x="90.7" y="1246.5"/></g><g id="n335"><use href="#d" x="90.7" y="1266.7"/></g><g id="n336"><use href="#d" x="90.7" y="1287"/></g><g id="n337"><use href="#d" x="90.7" y="1307.3"/></g>
<g id="n338"><use href="#d" x="123.3" y="1246.5"/></g><g id="n339"><use href="#d" x="123.3" y="1266.7"/></g><g id="n340"><use href="#d" x="123.3" y="1287"/></g><g id="n341"><use href="#d" x="123.3" y="1307.3"/></g>
<g id="n342"><use href="#d" x="204" y="1124.9"/></g><g id="n343"><use href="#d" x="204" y="1145.1"/></g>
<g id="n344"><use href="#d" x="236.7" y="1084.3"/></g><g id="n345"><use href="#d" x="236.7" y="1104.6"/></g><g id="n346"><use href="#d" x="236.7" y="1124.9"/></g><g id="n347"><use href="#d" x="236.7" y="1145.1"/></g><g id="n348"><use href="#d" x="236.7" y="1165.4"/></g><g id="n349"><use href="#d" x="236.7" y="1185.7"/></g><g id="n350"><use href="#d" x="236.7" y="1205.9"/></g><g id="n351"><use href="#d" x="236.7" y="1226.2"/></g><g id="n352"><use href="#d" x="269.3" y="1165.4"/></g><g id="n353"><use href="#d" x="269.3" y="1185.7"/></g>
<g id="n354"><use href="#d" x="269.3" y="1043.8"/></g><g id="n355"><use href="#d" x="269.3" y="1064"/></g><g id="n356"><use href="#d" x="269.3" y="1084.3"/></g><g id="n357"><use href="#d" x="269.3" y="1104.6"/></g><g id="n358"><use href="#d" x="269.3" y="1124.9"/></g><g id="n359"><use href="#d" x="269.3" y="1145.1"/></g>
<g id="n360"><use href="#d" x="302" y="1124.9"/></g><g id="n361"><use href="#d" x="302" y="1145.1"/></g><g id="n362"><use href="#d" x="302" y="1165.4"/></g><g id="n363"><use href="#d" x="302" y="1185.7"/></g>
<g id="n364"><use href="#d" x="334.7" y="1124.9"/></g><g id="n365"><use href="#d" x="334.7" y="1145.1"/></g><g id="n366"><use href="#d" x="334.7" y="1165.4"/></g><g id="n367"><use href="#d" x="334.7" y="1185.7"/></g><g id="n368"><use href="#d" x="317.7" y="1205.9"/></g><g id="n369"><use href="#d" x="317.7" y="1226.2"/></g><g id="n370"><use href="#d" x="317.7" y="1246.5"/></g><g id="n371"><use href="#d" x="317.7" y="1266.7"/></g><g id="n372"><use href="#d" x="302" y="1287"/></g><g id="n373"><use href="#d" x="302" y="1307.3"/></g><g id="n374"><use href="#d" x="334.7" y="1287"/></g><g id="n375"><use href="#d" x="334.7" y="1307.3"/></g>
<g id="n376"><use href="#d" x="350" y="1205.9"/></g><g id="n377"><use href="#d" x="350" y="1226.2"/></g><g id="n378"><use href="#d" x="350" y="1246.5"/></g><g id="n379"><use href="#d" x="350" y="1266.7"/></g>
<g id="n380"><use href="#d" x="302" y="1084.3"/></g><g id="n381"><use href="#d" x="302" y="1104.6"/></g><g id="n382"><use href="#d" x="283.7" y="1003.2"/></g><g id="n383"><use href="#d" x="283.7" y="1023.5"/></g>
<g id="n384"><use href="#d" x="299.3" y="881.6"/></g><g id="n385"><use href="#d" x="299.3" y="901.9"/></g><g id="n386"><use href="#d" x="299.3" y="922.2"/></g><g id="n387"><use href="#d" x="299.3" y="942.4"/></g><g id="n388"><use href="#d" x="332" y="922.2"/></g><g id="n389"><use href="#d" x="332" y="942.4"/></g><g id="n390"><use href="#d" x="332" y="962.7"/></g><g id="n391"><use href="#d" x="332" y="983"/></g><g id="n392"><use href="#d" x="332" y="1003.2"/></g><g id="n393"><use href="#d" x="332" y="1023.5"/></g>
<g id="n394"><use href="#d" x="365" y="962.7"/></g><g id="n395"><use href="#d" x="365" y="983"/></g><g id="n396"><use href="#d" x="365" y="1003.2"/></g><g id="n397"><use href="#d" x="365" y="1023.5"/></g><g id="n398"><use href="#d" x="336" y="1043.8"/></g><g id="n399"><use href="#d" x="336" y="1064"/></g><g id="n400"><use href="#d" x="368.3" y="1043.8"/></g><g id="n401"><use href="#d" x="368.3" y="1064"/></g>
<g id="n402"><use href="#d" x="336" y="1084.3"/></g><g id="n403"><use href="#d" x="336" y="1104.6"/></g><g id="n404"><use href="#d" x="368.3" y="1084.3"/></g><g id="n405"><use href="#d" x="368.3" y="1104.6"/></g><g id="n406"><use href="#d" x="401.3" y="1084.3"/></g><g id="n407"><use href="#d" x="401.3" y="1104.6"/></g>
<g id="n408"><use href="#d" x="395" y="1124.9"/></g><g id="n409"><use href="#d" x="395" y="1145.1"/></g><g id="n410"><use href="#d" x="395" y="1165.4"/></g><g id="n411"><use href="#d" x="395" y="1185.7"/></g><g id="n412"><use href="#d" x="391" y="1205.9"/></g><g id="n413"><use href="#d" x="391" y="1226.2"/></g>
<g id="n414"><use href="#d" x="423.3" y="1205.9"/></g><g id="n415"><use href="#d" x="423.3" y="1226.2"/></g><g id="n416"><use href="#d" x="423.3" y="1246.5"/></g><g id="n417"><use href="#d" x="423.3" y="1266.7"/></g><g id="n418"><use href="#d" x="423.3" y="1287"/></g><g id="n419"><use href="#d" x="423.3" y="1307.3"/></g><g id="n420"><use href="#d" x="423.3" y="1327.6"/></g><g id="n421"><use href="#d" x="423.3" y="1347.8"/></g>
<g id="n422"><use href="#d" x="406.3" y="1368.1"/></g><g id="n423"><use href="#d" x="406.3" y="1388.4"/></g><g id="n424"><use href="#d" x="439.3" y="1368.1"/></g><g id="n425"><use href="#d" x="439.3" y="1388.4"/></g><g id="n426"><use href="#d" x="439.3" y="1408.6"/></g><g id="n427"><use href="#d" x="439.3" y="1428.9"/></g>
<g id="n428"><use href="#d" x="427.7" y="1124.9"/></g><g id="n429"><use href="#d" x="427.7" y="1145.1"/></g><g id="n430"><use href="#d" x="427.7" y="1165.4"/></g><g id="n431"><use href="#d" x="427.7" y="1185.7"/></g>
<g id="n432"><use href="#d" x="312.7" y="719.5"/></g><g id="n433"><use href="#d" x="312.7" y="739.7"/></g><g id="n434"><use href="#d" x="283.7" y="760"/></g><g id="n435"><use href="#d" x="283.7" y="780.3"/></g><g id="n436"><use href="#d" x="316.7" y="760"/></g><g id="n437"><use href="#d" x="316.7" y="780.3"/></g><g id="n438"><use href="#d" x="316.7" y="800.5"/></g><g id="n439"><use href="#d" x="316.7" y="820.8"/></g><g id="n440"><use href="#d" x="324.3" y="841.1"/></g><g id="n441"><use href="#d" x="332" y="861.3"/></g>
<g id="n442"><use href="#d" x="332" y="881.6"/></g><g id="n443"><use href="#d" x="332" y="901.9"/></g><g id="n444"><use href="#d" x="365" y="922.2"/></g><g id="n445"><use href="#d" x="365" y="942.4"/></g><g id="n446"><use href="#d" x="365" y="881.6"/></g><g id="n447"><use href="#d" x="365" y="901.9"/></g>
<g id="n448"><use href="#d" x="346.7" y="678.9"/></g><g id="n449"><use href="#d" x="346.7" y="699.2"/></g><g id="n450"><use href="#d" x="347.7" y="719.5"/></g><g id="n451"><use href="#d" x="348.7" y="739.7"/></g><g id="n452"><use href="#d" x="348.7" y="760"/></g><g id="n453"><use href="#d" x="348.7" y="780.3"/></g>
<g id="n454"><use href="#d" x="383.3" y="557.3"/></g><g id="n455"><use href="#d" x="399" y="577.6"/></g><g id="n456"><use href="#d" x="381.7" y="597.8"/></g><g id="n457"><use href="#d" x="381.7" y="618.1"/></g><g id="n458"><use href="#d" x="381.7" y="638.4"/></g><g id="n459"><use href="#d" x="381.7" y="658.6"/></g><g id="n460"><use href="#d" x="381.7" y="678.9"/></g><g id="n461"><use href="#d" x="381.7" y="699.2"/></g><g id="n462"><use href="#d" x="381.7" y="719.5"/></g><g id="n463"><use href="#d" x="381.7" y="739.7"/></g><g id="n464"><use href="#d" x="381.7" y="760"/></g><g id="n465"><use href="#d" x="381.7" y="780.3"/></g><g id="n466"><use href="#d" x="381.7" y="800.5"/></g><g id="n467"><use href="#d" x="381.7" y="820.8"/></g>
<g id="n468"><use href="#d" x="414.3" y="678.9"/></g><g id="n469"><use href="#d" x="414.3" y="699.2"/></g><g id="n470"><use href="#d" x="414.3" y="597.8"/></g><g id="n471"><use href="#d" x="414.3" y="618.1"/></g>
<g id="n472"><use href="#d" x="447" y="597.8"/></g><g id="n473"><use href="#d" x="447" y="618.1"/></g><g id="n474"><use href="#d" x="447" y="638.4"/></g><g id="n475"><use href="#d" x="447" y="658.6"/></g><g id="n476"><use href="#d" x="447" y="678.9"/></g><g id="n477"><use href="#d" x="447" y="699.2"/></g><g id="n478"><use href="#d" x="414.3" y="719.5"/></g><g id="n479"><use href="#d" x="414.3" y="739.7"/></g><g id="n480"><use href="#d" x="414.3" y="760"/></g><g id="n481"><use href="#d" x="414.3" y="780.3"/></g><g id="n482"><use href="#d" x="447" y="760"/></g><g id="n483"><use href="#d" x="447" y="780.3"/></g><g id="n484"><use href="#d" x="447" y="719.5"/></g><g id="n485"><use href="#d" x="447" y="739.7"/></g>
<g id="n486"><use href="#d" x="479.3" y="678.9"/></g><g id="n487"><use href="#d" x="479.3" y="699.2"/></g><g id="n488"><use href="#d" x="479.3" y="719.5"/></g><g id="n489"><use href="#d" x="479.3" y="739.7"/></g><g id="n490"><use href="#d" x="479.3" y="760"/></g><g id="n491"><use href="#d" x="479.3" y="780.3"/></g><g id="n492"><use href="#d" x="462.7" y="800.5"/></g><g id="n493"><use href="#d" x="462.7" y="820.8"/></g><g id="n494"><use href="#d" x="495.3" y="800.5"/></g><g id="n495"><use href="#d" x="495.3" y="820.8"/></g><g id="n496"><use href="#d" x="495.3" y="841.1"/></g><g id="n497"><use href="#d" x="495.3" y="861.3"/></g><g id="n498"><use href="#d" x="495.3" y="881.6"/></g><g id="n499"><use href="#d" x="495.3" y="901.9"/></g>
<g id="n500"><use href="#d" x="512" y="719.5"/></g><g id="n501"><use href="#d" x="512" y="739.7"/></g>
<g id="n502"><use href="#d" x="317.7" y="395.1"/></g><g id="n503"><use href="#d" x="317.7" y="415.4"/></g><g id="n504"><use href="#d" x="317.7" y="435.7"/></g><g id="n505"><use href="#d" x="317.7" y="455.9"/></g><g id="n506"><use href="#d" x="350" y="435.7"/></g><g id="n507"><use href="#d" x="350" y="455.9"/></g><g id="n508"><use href="#d" x="350" y="476.2"/></g><g id="n509"><use href="#d" x="350" y="496.5"/></g>
<g id="n510"><use href="#d" x="317.7" y="354.6"/></g><g id="n511"><use href="#d" x="317.7" y="374.9"/></g>
</g>
</svg>
